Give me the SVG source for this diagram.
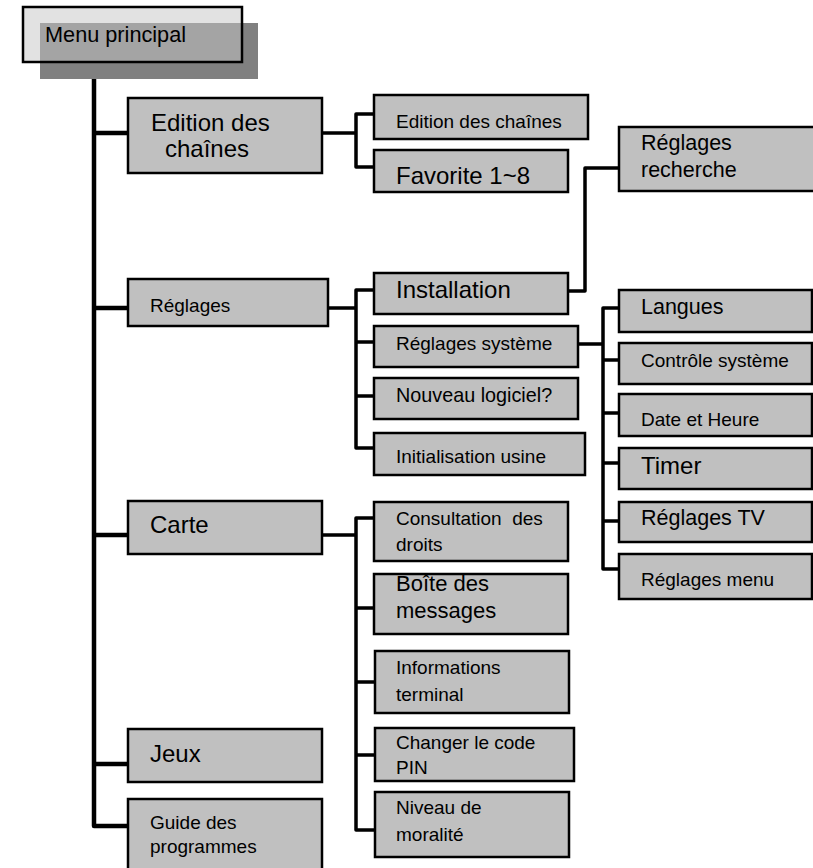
<svg xmlns="http://www.w3.org/2000/svg" width="813" height="868" viewBox="0 0 813 868">
<style>
text{font-family:"Liberation Sans",Arial,sans-serif;fill:#000;white-space:pre}
.b{fill:#c0c0c0;stroke:#000;stroke-width:2.5}
.c{fill:none;stroke:#000;stroke-width:3.5;stroke-linejoin:round}
.m{stroke-width:4.5}
.s19{font-size:19px}.s21{font-size:21.5px}.s24{font-size:24px}
</style>
<rect width="813" height="868" fill="#fff"/>
<g id="connectors">
<path class="c m" d="M94,62 V826 H128 M94,133 H128 M94,308 H128 M94,535 H128 M94,764 H128"/>
<path class="c" d="M322,133 H356 M374,114 H356 V167 H374"/>
<path class="c" d="M328,308 H356 M374,290 H356 V448 H374 M356,342 H374 M356,396 H374"/>
<path class="c" d="M568,291 H585 V168 H619"/>
<path class="c" d="M578,344 H603 M619,308 H603 V569 H619 M603,360 H619 M603,413 H619 M603,463 H619 M603,521 H619"/>
<path class="c" d="M322,535 H356 M374,518 H356 V830 H375 M356,608 H374 M356,682 H375 M356,755 H375"/>
</g>
<g id="menu-principal">
<rect x="23" y="7" width="219" height="55" fill="#e2e2e2"/>
<rect x="40" y="23" width="218" height="56" fill="#808080"/>
<rect x="40" y="23" width="202" height="39" fill="#a4a4a4"/>
<rect x="23" y="7" width="219" height="55" fill="none" stroke="#000" stroke-width="2.5"/>
<text x="45" y="42" style="font-size:21.7px">Menu principal</text>
</g>
<g id="edition-des-chaines">
<rect class="b" x="128" y="98" width="194" height="75"/>
<text class="s24" x="151" y="131">Edition des</text>
<text class="s24" x="165" y="157">chaînes</text>
</g>
<g id="reglages">
<rect class="b" x="128" y="279" width="200" height="47"/>
<text class="s19" x="150" y="312">Réglages</text>
</g>
<g id="carte">
<rect class="b" x="128" y="501" width="194" height="53"/>
<text class="s24" x="150" y="533">Carte</text>
</g>
<g id="jeux">
<rect class="b" x="128" y="729" width="194" height="53"/>
<text class="s24" x="150" y="762">Jeux</text>
</g>
<g id="guide-des-programmes">
<rect class="b" x="128" y="799" width="194" height="72"/>
<text class="s19" x="150" y="829">Guide des</text>
<text class="s19" x="150" y="853">programmes</text>
</g>
<g id="edition-des-chaines-2">
<rect class="b" x="374" y="95" width="214" height="44"/>
<text class="s19" x="396" y="128">Edition des chaînes</text>
</g>
<g id="favorite">
<rect class="b" x="374" y="150" width="194" height="42"/>
<text class="s24" x="396" y="184">Favorite 1~8</text>
</g>
<g id="installation">
<rect class="b" x="374" y="273" width="194" height="41"/>
<text class="s24" x="396" y="298">Installation</text>
</g>
<g id="reglages-systeme">
<rect class="b" x="374" y="326" width="204" height="41"/>
<text class="s19" x="396" y="350">Réglages système</text>
</g>
<g id="nouveau-logiciel">
<rect class="b" x="374" y="378" width="204" height="41"/>
<text class="s19" x="396" y="402" style="font-size:19.8px">Nouveau logiciel?</text>
</g>
<g id="initialisation-usine">
<rect class="b" x="374" y="433" width="211" height="42"/>
<text class="s19" x="396" y="463">Initialisation usine</text>
</g>
<g id="reglages-recherche">
<rect class="b" x="619" y="127" width="198" height="64"/>
<text class="s21" x="641" y="150">Réglages</text>
<text class="s21" x="641" y="177">recherche</text>
</g>
<g id="langues">
<rect class="b" x="619" y="290" width="193" height="42"/>
<text class="s21" x="641" y="314">Langues</text>
</g>
<g id="controle-systeme">
<rect class="b" x="619" y="343" width="193" height="41"/>
<text class="s19" x="641" y="367">Contrôle système</text>
</g>
<g id="date-et-heure">
<rect class="b" x="619" y="394" width="193" height="42"/>
<text class="s19" x="641" y="426">Date et Heure</text>
</g>
<g id="timer">
<rect class="b" x="619" y="448" width="193" height="41"/>
<text class="s24" x="641" y="474">Timer</text>
</g>
<g id="reglages-tv">
<rect class="b" x="619" y="502" width="193" height="40"/>
<text class="s21" x="641" y="525">Réglages TV</text>
</g>
<g id="reglages-menu">
<rect class="b" x="619" y="554" width="193" height="45"/>
<text class="s19" x="641" y="586">Réglages menu</text>
</g>
<g id="consultation-des-droits">
<rect class="b" x="374" y="502" width="194" height="59"/>
<text class="s19" x="396" y="525">Consultation  des</text>
<text class="s19" x="396" y="551">droits</text>
</g>
<g id="boite-des-messages">
<rect class="b" x="374" y="574" width="194" height="60"/>
<text x="396" y="591" style="font-size:22px">Boîte des</text>
<text x="396" y="618" style="font-size:22px">messages</text>
</g>
<g id="informations-terminal">
<rect class="b" x="375" y="651" width="194" height="62"/>
<text class="s19" x="396" y="674">Informations</text>
<text class="s19" x="396" y="701">terminal</text>
</g>
<g id="changer-le-code-pin">
<rect class="b" x="375" y="728" width="199" height="53"/>
<text class="s19" x="396" y="749">Changer le code</text>
<text class="s19" x="396" y="774">PIN</text>
</g>
<g id="niveau-de-moralite">
<rect class="b" x="375" y="792" width="194" height="65"/>
<text class="s19" x="396" y="814">Niveau de</text>
<text class="s19" x="396" y="841">moralité</text>
</g>
</svg>
